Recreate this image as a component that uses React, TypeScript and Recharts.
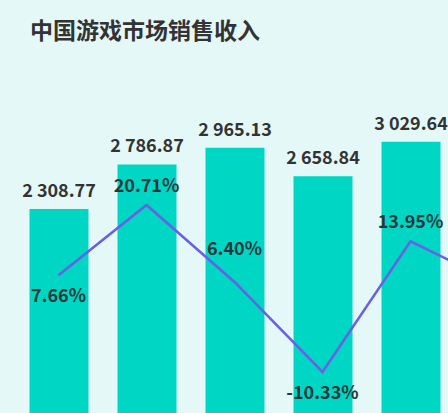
import { Bar, BarChart, LabelList, Line, XAxis, YAxis } from 'recharts'

const years = ['2019', '2020', '2021', '2022', '2023', '2024']
const revenue = [2308.77, 2786.87, 2965.13, 2658.84, 3029.64, 3257.83]
const growth = [7.66, 20.71, 6.4, -10.33, 13.95, 6.0]

const data = years.map((year, i) => ({ year, revenue: revenue[i], growth: growth[i] }))

const FONT = '"Noto Sans CJK SC", "Noto Sans", sans-serif'
const LAST = years.length - 1

// 2308.77 -> "2 308.77"
function formatRevenue(v: number) {
  const [int, dec] = v.toFixed(2).split('.')
  return int.replace(/\B(?=(\d{3})+(?!\d))/g, ' ') + '.' + dec
}

function RevenueLabel(props: any) {
  const { x, y, width, index, value } = props
  // last year sits beyond the crop of the picture
  if (index === LAST) return null
  return (
    <text
      x={x + width / 2}
      y={y - 12}
      textAnchor="middle"
      fontFamily={FONT}
      fontSize={18}
      fontWeight={600}
      fill="#333"
    >
      {formatRevenue(Number(value))}
    </text>
  )
}

function GrowthLabel(props: any) {
  const { x, y, index, value } = props
  if (index === LAST) return null
  const prev = growth[index - 1]
  const next = growth[index + 1]
  const isLow =
    (prev === undefined || value < prev) && (next === undefined || value < next)
  const onSlope =
    prev !== undefined && next !== undefined && !isLow && !(value > prev && value > next)
  const ty = isLow ? y + 27 : y - (onSlope ? 27 : 13)
  return (
    <text
      x={x}
      y={ty}
      textAnchor="middle"
      fontFamily={FONT}
      fontSize={18}
      fontWeight={600}
      fill="#24383c"
    >
      {value.toFixed(2) + '%'}
    </text>
  )
}

export default function App() {
  return (
    <div
      style={{
        position: 'absolute',
        left: 0,
        top: 0,
        width: 448,
        height: 413,
        overflow: 'hidden',
        background: '#e4f8f7',
      }}
    >
      <div
        style={{
          position: 'absolute',
          left: 30,
          top: 18,
          fontFamily: FONT,
          fontSize: 23,
          lineHeight: '23px',
          fontWeight: 700,
          color: '#333',
          whiteSpace: 'nowrap',
        }}
      >
        中国游戏市场销售收入
      </div>
      <div style={{ position: 'absolute', left: 0, top: 0 }}>
        <BarChart
          width={560}
          height={440}
          data={data}
          margin={{ top: 98, right: 17.5, bottom: 16, left: 14.5 }}
        >
          <XAxis dataKey="year" hide />
          <YAxis yAxisId="rev" hide domain={[0, 3500]} />
          <YAxis yAxisId="pct" hide orientation="right" domain={[-20, 40.6]} />
          <Bar
            yAxisId="rev"
            dataKey="revenue"
            fill="#00d6c4"
            barSize={59}
            isAnimationActive={false}
          >
            <LabelList dataKey="revenue" content={RevenueLabel} />
          </Bar>
          <Line
            yAxisId="pct"
            dataKey="growth"
            stroke="#6a5fe6"
            strokeWidth={2.5}
            dot={false}
            activeDot={false}
            isAnimationActive={false}
          >
            <LabelList dataKey="growth" content={GrowthLabel} />
          </Line>
        </BarChart>
      </div>
    </div>
  )
}
